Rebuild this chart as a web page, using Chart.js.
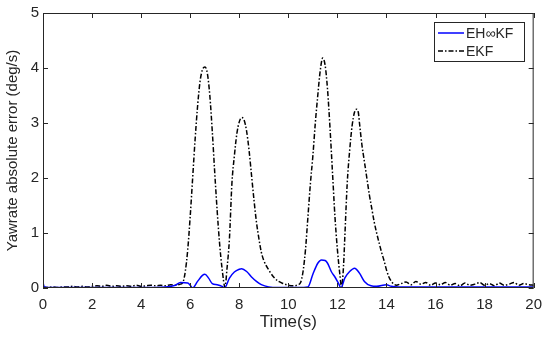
<!DOCTYPE html>
<html>
<head>
<meta charset="utf-8">
<script src="https://cdn.jsdelivr.net/npm/chart.js@4.4.0/dist/chart.umd.min.js"></script>
<style>
  html, body { margin: 0; padding: 0; background: #fff; }
  #wrap { width: 550px; height: 338px; }
</style>
</head>
<body>
<div id="wrap"><canvas id="myChart" width="550" height="338"></canvas></div>
<script>
// EKF absolute yaw-rate error (deg/s) vs time (s)
var tEkf = [0,0.2,0.4,0.6,0.8,1.0,1.2,1.4,1.6,1.8,2.0,2.2,2.4,2.6,2.8,3.0,3.2,3.4,3.6,3.8,4.0,4.2,4.4,4.6,4.8,5.0,5.2,5.4,5.6,5.7,5.8,5.9,6.0,6.1,6.2,6.3,6.4,6.5,6.6,6.7,6.8,6.9,7.0,7.1,7.2,7.3,7.42,7.5,7.6,7.7,7.8,7.9,8.0,8.1,8.2,8.3,8.4,8.5,8.6,8.7,8.8,8.9,9.0,9.2,9.4,9.6,9.8,10.0,10.2,10.4,10.5,10.6,10.7,10.8,10.9,11.0,11.1,11.2,11.3,11.4,11.5,11.6,11.7,11.8,11.9,12.0,12.1,12.17,12.25,12.3,12.4,12.5,12.6,12.7,12.77,12.85,12.9,13.0,13.1,13.2,13.3,13.4,13.5,13.6,13.7,13.8,13.9,14.0,14.1,14.2,14.3,14.4,14.6,14.8,15.0,15.2,15.4,15.6,15.8,16.0,16.2,16.4,16.6,16.8,17.0,17.2,17.4,17.6,17.8,18.0,18.2,18.4,18.6,18.8,19.0,19.2,19.4,19.6,19.8,20.0];
var ekf = [0.02,0.01,0.02,0.01,0.02,0.02,0.03,0.02,0.03,0.02,0.03,0.04,0.03,0.05,0.03,0.04,0.03,0.04,0.03,0.05,0.03,0.04,0.05,0.04,0.05,0.04,0.06,0.05,0.07,0.1,0.3,0.7,1.3,2.0,2.7,3.3,3.75,3.97,4.02,3.9,3.5,2.85,2.1,1.4,0.8,0.35,0.02,0.35,0.9,1.9,2.4,2.8,3.02,3.1,3.05,2.85,2.5,2.05,1.6,1.2,0.9,0.65,0.5,0.33,0.2,0.12,0.08,0.05,0.04,0.06,0.1,0.3,0.7,1.3,1.9,2.4,3.0,3.5,3.95,4.18,4.05,3.6,2.9,2.1,1.3,0.7,0.25,0.02,0.4,0.9,1.9,2.5,2.95,3.2,3.25,3.2,3.0,2.6,2.3,2.0,1.7,1.45,1.2,1.0,0.82,0.65,0.5,0.33,0.2,0.12,0.07,0.05,0.08,0.11,0.06,0.12,0.07,0.1,0.05,0.09,0.06,0.1,0.05,0.08,0.04,0.09,0.05,0.07,0.1,0.05,0.08,0.04,0.09,0.05,0.07,0.1,0.05,0.08,0.06,0.05];

// EH-infinity KF absolute yaw-rate error
var tEh = [0,0.05,0.2,1,2,3,4,5.0,5.4,5.6,5.9,6.0,6.1,6.3,6.5,6.6,6.75,6.9,7.1,7.3,7.4,7.6,7.8,8.0,8.1,8.3,8.5,8.7,8.9,9.2,9.6,10.4,10.8,11.0,11.2,11.35,11.5,11.6,11.75,11.9,12.05,12.15,12.3,12.5,12.7,12.9,13.1,13.37,13.6,14.0,14.2,14.5,16,18,20];
var eh = [0.1,0.02,0.01,0.01,0.01,0.01,0.01,0.02,0.05,0.1,0.09,0.05,0.0,0.12,0.23,0.25,0.18,0.08,0.06,0.03,0.0,0.18,0.29,0.34,0.35,0.3,0.2,0.12,0.06,0.02,0.01,0.01,0.02,0.25,0.45,0.51,0.5,0.45,0.3,0.2,0.08,0.0,0.18,0.3,0.36,0.27,0.12,0.04,0.03,0.06,0.03,0.02,0.02,0.02,0.02];

var xTicks = [0,2,4,6,8,10,12,14,16,18,20];
var yTicks = [0,1,2,3,4,5];
var seriesNames = ['EH\u221EKF', 'EKF'];

var axisColor = '#262626';
var fontFam = '"Liberation Sans", Arial, sans-serif';

function toPoints(xs, ys){
    var pts = [];
    for (var i = 0; i < xs.length; i++) {
        pts.push({x: xs[i], y: ys[i]});
    }
    return pts;
}

// box, inward ticks and legend like the matlab figure
var matlabAxes = {
    id: 'matlabAxes',
    afterDraw: function(chart){
        var ctx = chart.ctx;
        var a = chart.chartArea;
        var xs = chart.scales.x, ys = chart.scales.y;
        ctx.save();
        ctx.strokeStyle = axisColor;
        ctx.lineWidth = 1;
        ctx.setLineDash([]);
        ctx.strokeRect(a.left + 0.5, a.top + 0.5, a.right - a.left - 1, a.bottom - a.top - 1);
        var tl = 5;
        ctx.beginPath();
        xTicks.forEach(function(v){
            var px = Math.round(xs.getPixelForValue(v)) + 0.5;
            ctx.moveTo(px, a.bottom); ctx.lineTo(px, a.bottom - tl);
            ctx.moveTo(px, a.top); ctx.lineTo(px, a.top + tl);
        });
        yTicks.forEach(function(v){
            var py = Math.round(ys.getPixelForValue(v)) + 0.5;
            ctx.moveTo(a.left, py); ctx.lineTo(a.left + tl, py);
            ctx.moveTo(a.right, py); ctx.lineTo(a.right - tl, py);
        });
        ctx.stroke();

        // legend
        var lx = 434, ly = 22, lw = 90, lh = 39;
        ctx.fillStyle = '#fff';
        ctx.fillRect(lx, ly, lw, lh);
        ctx.strokeStyle = axisColor;
        ctx.strokeRect(lx + 0.5, ly + 0.5, lw, lh);
        ctx.font = '14px ' + fontFam;
        ctx.textBaseline = 'middle';
        chart.data.datasets.forEach(function(ds, i){
            var yy = ly + 11 + i * 18;
            ctx.beginPath();
            ctx.strokeStyle = ds.borderColor;
            ctx.lineWidth = 1.5;
            ctx.setLineDash(ds.borderDash || []);
            ctx.moveTo(lx + 4, yy); ctx.lineTo(lx + 30, yy);
            ctx.stroke();
            ctx.setLineDash([]);
            ctx.fillStyle = axisColor;
            ctx.fillText(ds.label, lx + 32, yy + 1);
        });
        ctx.restore();
    }
};

const ctx = document.getElementById('myChart').getContext('2d');
const myChart = new Chart(ctx, {
    type: 'line',
    data: {
        datasets: [{
            label: seriesNames[0],
            data: toPoints(tEh, eh),
            borderColor: '#0000ff',
            borderWidth: 1.5,
            pointRadius: 0,
            cubicInterpolationMode: 'monotone'
        }, {
            label: seriesNames[1],
            data: toPoints(tEkf, ekf),
            borderColor: '#000000',
            borderWidth: 1.5,
            borderDash: [5, 2, 1.5, 2],
            pointRadius: 0,
            cubicInterpolationMode: 'monotone'
        }]
    },
    options: {
        responsive: false,
        animation: false,
        layout: { padding: { top: 11, right: 13, left: 0, bottom: 0 } },
        plugins: {
            legend: { display: false },
            tooltip: { enabled: false }
        },
        scales: {
            x: {
                type: 'linear',
                min: 0, max: 20,
                afterBuildTicks: function(s){ s.ticks = xTicks.map(function(v){ return {value: v}; }); },
                afterFit: function(s){ s.height = 50; },
                grid: { display: false, drawTicks: false },
                border: { display: false },
                ticks: { color: axisColor, padding: 8, maxRotation: 0, font: { size: 15, family: fontFam } },
                title: { display: true, text: 'Time(s)', color: axisColor, padding: { top: 0, bottom: 5 }, font: { size: 17, family: fontFam } }
            },
            y: {
                min: 0, max: 5,
                afterBuildTicks: function(s){ s.ticks = yTicks.map(function(v){ return {value: v}; }); },
                afterFit: function(s){ s.width = 43; },
                grid: { display: false, drawTicks: false },
                border: { display: false },
                ticks: { color: axisColor, padding: 4, font: { size: 15, family: fontFam } },
                title: { display: true, text: 'Yawrate absolute error (deg/s)', color: axisColor, padding: { top: 4, bottom: 0 }, font: { size: 15, family: fontFam } }
            }
        }
    },
    plugins: [matlabAxes]
});
</script>
</body>
</html>
